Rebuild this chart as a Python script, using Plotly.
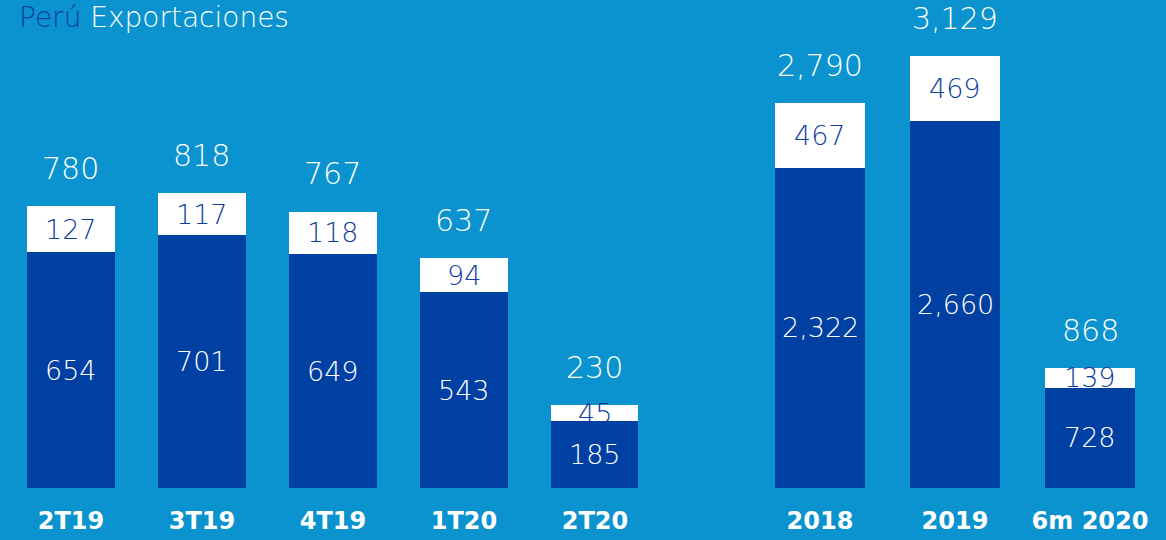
import plotly.graph_objects as go

# Quarterly data
categories_q = ["2T19", "3T19", "4T19", "1T20", "2T20"]
base_q = [654, 701, 649, 543, 185]
top_q = [127, 117, 118, 94, 45]
total_q = [780, 818, 767, 637, 230]

# Annual data
categories_y = ["2018", "2019", "6m 2020"]
base_y = [2322, 2660, 728]
top_y = [467, 469, 139]
total_y = [2790, 3129, 868]

DARK = "#0040a3"
LABEL_DARK = "#0d3d9e"
BG = "#0a93ce"
NUMFONT = "DejaVu Sans"

fig = go.Figure()


def add_panel(cats, base, top, totals, xa, ya):
    fig.add_trace(go.Bar(x=cats, y=base, marker=dict(color=DARK, line=dict(width=0)),
                         width=0.665, xaxis=xa, yaxis=ya, showlegend=False, hoverinfo="skip"))
    fig.add_trace(go.Bar(x=cats, y=top, marker=dict(color="white", line=dict(width=0)),
                         width=0.665, xaxis=xa, yaxis=ya, showlegend=False, hoverinfo="skip"))
    for i, (b, t, tot) in enumerate(zip(base, top, totals)):
        fig.add_annotation(x=i, y=b / 2, xref=xa, yref=ya, text=f"{b:,}", showarrow=False,
                           font=dict(family=NUMFONT, size=27, color="white", weight=200),
                           yanchor="middle")
        fig.add_annotation(x=i, y=b + t / 2, xref=xa, yref=ya, text=f"{t:,}", showarrow=False,
                           font=dict(family=NUMFONT, size=27, color=LABEL_DARK, weight=200),
                           yanchor="middle")
        fig.add_annotation(x=i, y=b + t, xref=xa, yref=ya, text=f"{tot:,}", showarrow=False,
                           font=dict(family=NUMFONT, size=30, color="white", weight=200),
                           yanchor="middle", yshift=38, borderpad=0)


add_panel(categories_q, base_q, top_q, total_q, "x", "y")
add_panel(categories_y, base_y, top_y, total_y, "x2", "y2")

axis_common = dict(showgrid=False, zeroline=False, showline=False, ticks="",
                   ticklabelstandoff=16,
                   tickfont=dict(family="DejaVu Sans", size=24, color="white", weight="bold"))

fig.update_layout(
    width=1166, height=540,
    margin=dict(l=0, r=0, t=0, b=52),
    paper_bgcolor=BG, plot_bgcolor="rgba(0,0,0,0)",
    barmode="stack", showlegend=False,
    xaxis=dict(domain=[0, 0.56], range=[-0.542, 4.443], type="category", **axis_common),
    xaxis2=dict(domain=[0.6, 1], range=[-0.892, 2.563], type="category", anchor="y2", **axis_common),
    yaxis=dict(domain=[0, 1], range=[0, 1353.7], visible=False, anchor="x"),
    yaxis2=dict(domain=[0, 1], range=[0, 3536], visible=False, anchor="x2"),
)

# Title (paper coordinates; plot area spans the top 488 px)
fig.add_annotation(x=18 / 1166, y=1 - 17 / 488, xref="paper", yref="paper", showarrow=False,
                   text="<span style='color:#0a3ea8'>Perú</span> Exportaciones",
                   font=dict(family=NUMFONT, size=28, color="white", weight=200),
                   xanchor="left", yanchor="middle", borderpad=0)

fig.write_html("out.html",
               config={"displayModeBar": False},
               post_script="document.body.style.margin='0';document.body.style.padding='0';"
                           "document.documentElement.style.overflow='hidden';")
